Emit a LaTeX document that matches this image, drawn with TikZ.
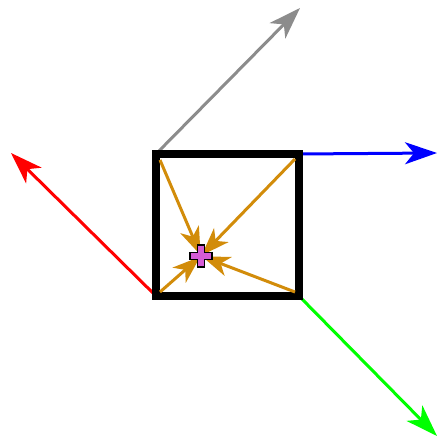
\documentclass[tikz,border=0pt]{standalone}
\usetikzlibrary{arrows.meta}
\definecolor{gold}{RGB}{210,140,10}
\definecolor{plusfill}{RGB}{214,92,214}
\begin{document}
\begin{tikzpicture}[x=1pt,y=-1pt,
  axis/.style={line width=3pt,-{Stealth[length=32pt,width=22pt,inset=9pt]}},
  inner/.style={gold,line width=3pt,shorten >=1pt,-{Stealth[length=28pt,width=20pt,inset=8pt]}}]
\useasboundingbox (0,0) rectangle (437,446);
\coordinate (tl) at (156,154);
\coordinate (tr) at (299,154);
\coordinate (br) at (299,296);
\coordinate (bl) at (156,296);
\coordinate (gtip) at (300,8);
\coordinate (btip) at (437,153);
\coordinate (rtip) at (11,153);
\coordinate (grtip) at (437,436);
\coordinate (c) at (201,256);
\coordinate (itl) at (160,160);
\coordinate (itr) at (295,159);
\coordinate (ibr) at (295,292);
\coordinate (ibl) at (160,292);
\draw[axis,gray!90] (tl) -- (gtip);
\draw[axis,blue] (tr) -- (btip);
\draw[axis,red] (bl) -- (rtip);
\draw[axis,green] (br) -- (grtip);
\draw[line width=8pt] (tl) -- (tr) -- (br) -- (bl) -- cycle;
\draw[inner] (itl) -- (c);
\draw[inner] (itr) -- (c);
\draw[inner] (ibr) -- (c);
\draw[inner] (ibl) -- (c);
\draw[fill=plusfill,line width=1.5pt] (c) ++(-3.5,-11) -- ++(7,0) -- ++(0,7.5) -- ++(7.5,0) -- ++(0,7) -- ++(-7.5,0) -- ++(0,7.5) -- ++(-7,0) -- ++(0,-7.5) -- ++(-7.5,0) -- ++(0,-7) -- ++(7.5,0) -- cycle;
\end{tikzpicture}
\end{document}
